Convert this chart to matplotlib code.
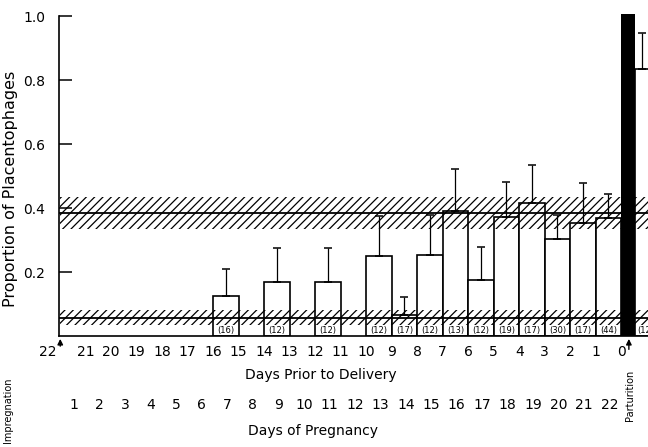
import matplotlib
matplotlib.use("Agg")
import matplotlib.pyplot as plt

# data
days_prior = [16, 14, 12, 10, 9, 8, 7, 6, 5, 4, 3, 2, 1]  # bar spans d -> d-1
props = [0.126, 0.17, 0.17, 0.251, 0.067, 0.255, 0.39, 0.175, 0.373, 0.415, 0.305, 0.355, 0.37]
upper = [0.21, 0.276, 0.276, 0.375, 0.123, 0.378, 0.522, 0.279, 0.482, 0.534, 0.38, 0.477, 0.444]
n_rats = [16, 12, 12, 12, 17, 12, 13, 12, 19, 17, 30, 17, 44]

partum_prop = 1.005
post_prop = 0.836
post_upper = 0.946
post_n = 12

band_hi = (0.335, 0.385, 0.435)
band_lo = (0.035, 0.058, 0.082)

prior_labels = list(range(22, -1, -1))
preg_labels = list(range(1, 23))

plt.rcParams["hatch.linewidth"] = 0.9
fig = plt.figure(figsize=(6.48, 4.47), dpi=100)
ax = fig.add_axes([0.091, 0.248, 0.909, 0.716])

x0 = [22 - d for d in days_prior]
ax.bar(x0, props, width=1, align="edge", facecolor="white", edgecolor="black",
       linewidth=1.2, zorder=2)
xc = [x + 0.5 for x in x0]
ax.errorbar(xc, props, yerr=[[0] * len(props), [u - p for u, p in zip(upper, props)]],
            fmt="none", ecolor="black", elinewidth=0.9, capsize=3, capthick=1.1, zorder=2)
for x, n in zip(xc, n_rats):
    ax.text(x, 0.018, "(%d)" % n, ha="center", va="center", fontsize=6, zorder=4)

# parturition and post-partum
ax.bar(22, partum_prop, width=0.55, align="edge", color="black", zorder=5, clip_on=False)
ax.bar(22.55, post_prop, width=0.6, align="edge", facecolor="white", edgecolor="black",
       linewidth=1.2, zorder=2)
ax.errorbar([22.8], [post_prop], yerr=[[0], [post_upper - post_prop]], fmt="none",
            ecolor="black", elinewidth=0.9, capsize=3, capthick=1.1, zorder=2)
ax.text(22.62, 0.018, "(%d)" % post_n, ha="left", va="center", fontsize=6, zorder=4)

# hatched bands (mean +/- range)
for lo, mid, hi in (band_hi, band_lo):
    ax.fill_between([0, 23.2], lo, hi, facecolor="none", edgecolor="black",
                    hatch="////", linewidth=0, zorder=3)
    ax.axhline(mid, color="black", lw=1.3, zorder=3)

ax.set_xlim(-0.05, 23.05)
ax.set_ylim(0, 1.0)
for s in ("top", "right"):
    ax.spines[s].set_visible(False)
ax.spines["left"].set_linewidth(1.2)
ax.spines["bottom"].set_linewidth(1.2)

ax.set_yticks([0.2, 0.4, 0.6, 0.8, 1.0])
ax.set_yticklabels(["0.2", "0.4", "0.6", "0.8", "1.0"], fontsize=10)
ax.tick_params(axis="y", direction="in", length=9, width=1.1, pad=10)
ax.set_xticks([])
ax.set_ylabel("Proportion of Placentophages", fontsize=11.5)
ax.yaxis.set_label_coords(-0.07, 0.46)

# axis labels below
for d in prior_labels:
    xp = 22 - d - (0.5 if d == 22 else 0)
    ax.text(xp, -0.05, str(d), ha="center", va="center", fontsize=10, clip_on=False)
for p in preg_labels:
    ax.text(p - 0.45, -0.215, str(p), ha="center", va="center", fontsize=10, clip_on=False)
ax.text(10.2, -0.122, "Days Prior to Delivery", ha="center", va="center", fontsize=10)
ax.text(9.9, -0.295, "Days of Pregnancy", ha="center", va="center", fontsize=10)
ax.text(-2.05, -0.23, "Impregnation", rotation=90, ha="center", va="center", fontsize=7)
ax.text(22.35, -0.185, "Parturition", rotation=90, ha="center", va="center", fontsize=7)

ax.annotate("", xy=(0, 0), xytext=(0, -0.04), annotation_clip=False,
            arrowprops=dict(arrowstyle="-|>", color="black", lw=1, mutation_scale=8))
ax.annotate("", xy=(22.3, 0), xytext=(22.3, -0.05), annotation_clip=False,
            arrowprops=dict(arrowstyle="-|>", color="black", lw=1, mutation_scale=8))

fig.savefig("out.png", dpi=100)
